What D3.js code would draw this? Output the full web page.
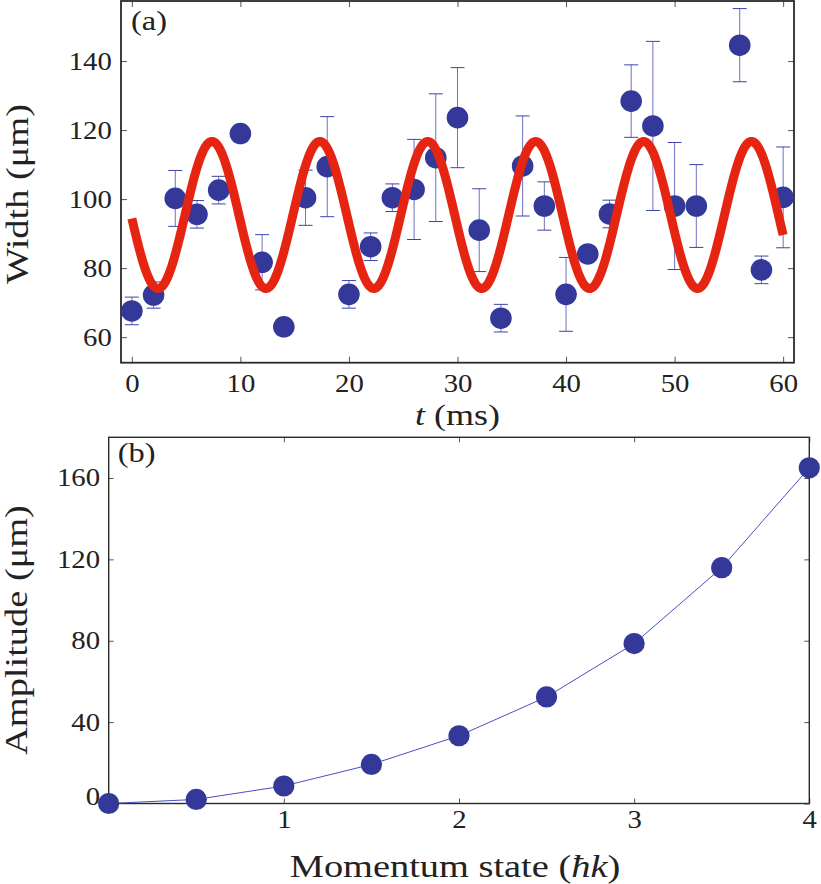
<!DOCTYPE html>
<html><head><meta charset="utf-8">
<script src="https://cdn.jsdelivr.net/npm/d3@7"></script>
<style>body{margin:0;background:#fff} svg{display:block}</style>
</head><body>
<svg id="c" width="821" height="884"></svg>
<script>
// ---------- Panel (a) data ----------
const timeMs   = [0,2,4,6,8,10,12,14,16,18,20,22,24,26,28,30,32,34,36,38,40,42,44,46,48,50,52,56,58,60];
const widthUm  = [67.6,72.2,100.2,95.6,102.6,119.0,81.7,63.0,100.4,109.4,72.4,86.2,100.4,102.8,112.0,123.6,91.0,65.5,109.6,98.0,72.4,84.1,95.7,128.4,121.2,98.0,98.0,144.6,79.5,100.5];
const widthErr = [4,3.8,8.1,4,4,2,8,2,8,14.5,4,4,4,14.5,18.5,14.5,12,4,14.5,7,10.7,2,4,10.5,24.5,18.4,12,10.6,4,14.6];
// sinusoidal fit shown as the red curve
const fitOffset = 95.4, fitAmplitude = 21.3, fitPeriod = 9.94, fitPeakTime = 7.38;
const fitRange = [0, 60];
const tickTimeA  = [0,10,20,30,40,50,60];
const tickWidthA = [60,80,100,120,140];

// ---------- Panel (b) data ----------
const momentum  = [0,0.5,1,1.5,2,2.5,3,3.5,4];
const amplitude = [0,2.0,8.6,19.2,33.3,52.4,78.6,115.9,165.0];
const tickMomB  = [1,2,3,4];
const tickAmpB  = [0,40,80,120,160];

const FONT = '"Liberation Serif","Times New Roman",serif';
const INK = '#222';
const DOT = '#343899';
const svg = d3.select('#c');
svg.append('rect').attr('width',821).attr('height',884).attr('fill','#fff');

function label(g, x, y, rot, sx, size, anchor) {
  return g.append('text')
    .attr('transform', `translate(${x},${y}) rotate(${rot}) scale(${sx},1)`)
    .attr('text-anchor', anchor).attr('font-family', FONT)
    .attr('font-size', size).attr('fill', INK);
}
function styleAxis(g, sx, size) {
  g.select('.domain').remove();
  g.selectAll('.tick line').attr('stroke', '#555').attr('stroke-width', 1);
  g.selectAll('text').attr('font-family', FONT).attr('font-size', size)
    .attr('fill', INK).attr('transform', `scale(${sx},1)`);
}

// ================= Panel (a) =================
const A = {l:121, r:794, t:1, b:362.7};
const xA = d3.scaleLinear().domain([-1, 61]).range([A.l, A.r]);
const yA = d3.scaleLinear().domain([52.6, 157.4]).range([A.b, A.t]);
const gA = svg.append('g');

gA.append('g').attr('transform', `translate(0,${A.b})`)
  .call(d3.axisBottom(xA).tickValues(tickTimeA).tickSizeInner(-6).tickSizeOuter(0).tickPadding(12))
  .call(g => styleAxis(g, 1.15, 25));
gA.append('g').attr('transform', `translate(0,${A.t})`)
  .call(d3.axisTop(xA).tickValues(tickTimeA).tickSizeInner(-6).tickSizeOuter(0).tickFormat(''))
  .call(g => styleAxis(g, 1, 25));
gA.append('g').attr('transform', `translate(${A.l},0)`)
  .call(d3.axisLeft(yA).tickValues(tickWidthA).tickSizeInner(-6).tickSizeOuter(0).tickPadding(8))
  .call(g => styleAxis(g, 1.15, 25));
gA.append('g').attr('transform', `translate(${A.r},0)`)
  .call(d3.axisRight(yA).tickValues(tickWidthA).tickSizeInner(-6).tickSizeOuter(0).tickFormat(''))
  .call(g => styleAxis(g, 1, 25));

gA.append('rect').attr('x', A.l).attr('y', A.t).attr('width', A.r - A.l).attr('height', A.b - A.t)
  .attr('fill', 'none').attr('stroke', '#2a2a2a').attr('stroke-width', 1.8);

const ptsA = timeMs.map((t, i) => ({t, w: widthUm[i], e: widthErr[i]}));
const eb = gA.append('g').attr('stroke', '#3d42a8').attr('stroke-width', 1);
ptsA.forEach(d => {
  const x = xA(d.t), y1 = yA(d.w + d.e), y2 = yA(d.w - d.e);
  eb.append('line').attr('x1', x).attr('x2', x).attr('y1', y1).attr('y2', y2).attr('stroke-opacity', 0.75);
  eb.append('line').attr('x1', x - 7).attr('x2', x + 7).attr('y1', y1).attr('y2', y1);
  eb.append('line').attr('x1', x - 7).attr('x2', x + 7).attr('y1', y2).attr('y2', y2);
});
gA.append('g').selectAll('circle').data(ptsA).join('circle')
  .attr('cx', d => xA(d.t)).attr('cy', d => yA(d.w)).attr('r', 10.8).attr('fill', DOT);

const fitT = d3.range(fitRange[0], fitRange[1] + 0.0001, 0.1);
const fitLine = d3.line().x(t => xA(t))
  .y(t => yA(fitOffset + fitAmplitude * Math.cos(2 * Math.PI * (t - fitPeakTime) / fitPeriod)));
gA.append('path').attr('d', fitLine(fitT)).attr('fill', 'none')
  .attr('stroke', '#e62412').attr('stroke-width', 9).attr('stroke-linecap', 'butt').attr('stroke-linejoin', 'round');

label(gA, 131, 30, 0, 1.2, 27, 'start').text('(a)');
const tl = label(gA, 457.5, 424.5, 0, 1.2, 30, 'middle');
tl.append('tspan').attr('font-style', 'italic').text('t');
tl.append('tspan').text(' (ms)');
label(gA, 28, 194, -90, 1.2, 32, 'middle').text('Width (μm)');

// ================= Panel (b) =================
const B = {l:108.7, r:809.3, t:437.3, b:803.5};
const xB = d3.scaleLinear().domain([0, 4]).range([B.l, B.r]);
const yB = d3.scaleLinear().domain([0, 180]).range([B.b, B.t]);
const gB = svg.append('g');

gB.append('g').attr('transform', `translate(0,${B.b})`)
  .call(d3.axisBottom(xB).tickValues(tickMomB).tickSizeInner(-5).tickSizeOuter(0).tickPadding(7).tickFormat(d3.format('d')))
  .call(g => styleAxis(g, 1.15, 25));
gB.append('g').attr('transform', `translate(0,${B.t})`)
  .call(d3.axisTop(xB).tickValues(tickMomB).tickSizeInner(-5).tickSizeOuter(0).tickFormat(''))
  .call(g => styleAxis(g, 1, 25));
gB.append('g').attr('transform', `translate(${B.l},0)`)
  .call(d3.axisLeft(yB).tickValues(tickAmpB).tickSizeInner(-5).tickSizeOuter(0).tickPadding(7.5))
  .call(g => styleAxis(g, 1.15, 25))
  .call(g => g.selectAll('.tick').filter(d => d === 0).select('text').attr('dy', '0.05em'));
gB.append('g').attr('transform', `translate(${B.r},0)`)
  .call(d3.axisRight(yB).tickValues(tickAmpB).tickSizeInner(-5).tickSizeOuter(0).tickFormat(''))
  .call(g => styleAxis(g, 1, 25));

gB.append('rect').attr('x', B.l).attr('y', B.t).attr('width', B.r - B.l).attr('height', B.b - B.t)
  .attr('fill', 'none').attr('stroke', '#2a2a2a').attr('stroke-width', 1.4);

const ptsB = momentum.map((m, i) => ({m, a: amplitude[i]}));
gB.append('path').attr('d', d3.line().x(d => xB(d.m)).y(d => yB(d.a))(ptsB))
  .attr('fill', 'none').attr('stroke', '#4a4fc0').attr('stroke-width', 1);
gB.append('g').selectAll('circle').data(ptsB).join('circle')
  .attr('cx', d => xB(d.m)).attr('cy', d => yB(d.a)).attr('r', 10.6).attr('fill', DOT);

label(gB, 117.7, 462, 0, 1.2, 27, 'start').text('(b)');
const ml = label(gB, 455, 877, 0, 1.2, 32, 'middle');
ml.append('tspan').text('Momentum state (');
ml.append('tspan').attr('font-style', 'italic').text('ħk');
ml.append('tspan').text(')');
label(gB, 27, 630, -90, 1.2, 32, 'middle').text('Amplitude (μm)');
</script>
</body></html>
